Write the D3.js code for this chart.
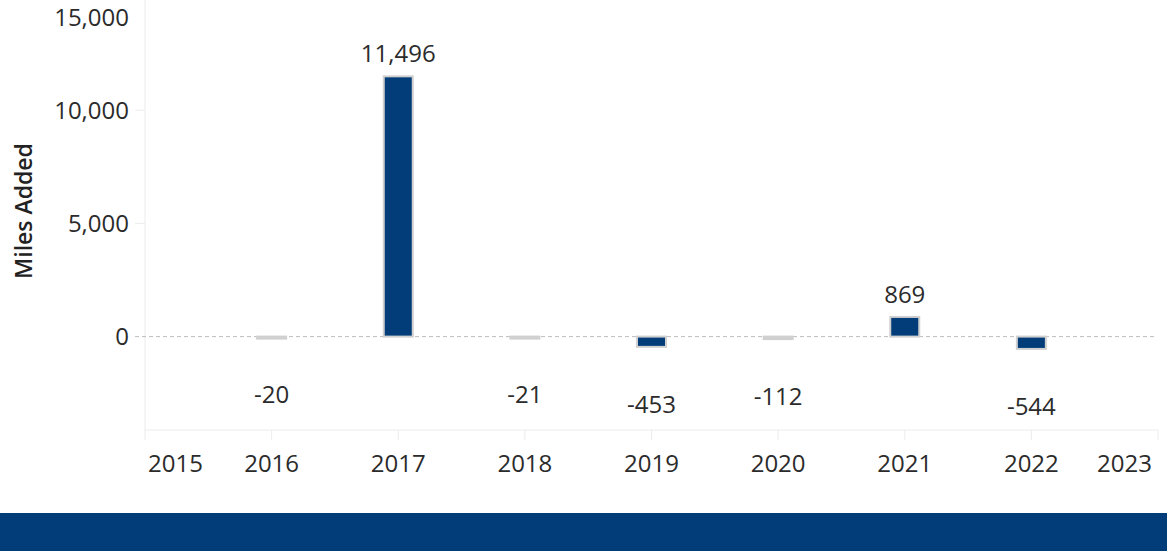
<!DOCTYPE html>
<html>
<head>
<meta charset="utf-8">
<script src="https://cdn.jsdelivr.net/npm/d3@7"></script>
<style>
  body { margin: 0; background: #fff; }
  svg { display: block; font-family: "Open Sans", "Noto Sans", sans-serif; }
</style>
</head>
<body>
<svg id="chart" width="1167" height="551"></svg>
<script>
// ------------------
// Data
// ------------------
const years = [2016, 2017, 2018, 2019, 2020, 2021, 2022];
const milesAdded = [-20, 11496, -21, -453, -112, 869, -544];
const xTicks = [2015, 2016, 2017, 2018, 2019, 2020, 2021, 2022, 2023];
const yTicks = [0, 5000, 10000, 15000];

const navy = "#023d7a";
const edge = "#d0d0d0";
const textColor = "#2b2b2b";
const fmt = v => d3.format(",")(Math.abs(v)).replace(/^/, v < 0 ? "-" : "");

const svg = d3.select("#chart");

const x = d3.scaleLinear().domain([2015, 2023]).range([145, 1158]);
const y = d3.scaleLinear().domain([-4125, 15000]).range([430, -3]);

// y axis line + ticks
svg.append("line")
  .attr("x1", 145).attr("x2", 145)
  .attr("y1", 0).attr("y2", 430)
  .attr("stroke", "#ececec").attr("stroke-width", 1);

yTicks.filter(t => t > 0).forEach(t => {
  svg.append("line")
    .attr("x1", 135).attr("x2", 145)
    .attr("y1", y(t)).attr("y2", y(t))
    .attr("stroke", "#ececec");
});

// top label is pushed down so it stays inside the picture
svg.selectAll("text.ylab")
  .data(yTicks)
  .enter().append("text")
  .attr("class", "ylab")
  .attr("x", 129)
  .attr("y", d => Math.max(y(d), 18))
  .attr("dy", "0.35em")
  .attr("text-anchor", "end")
  .attr("font-size", 24)
  .attr("fill", textColor)
  .text(d => fmt(d));

// y title
svg.append("text")
  .attr("transform", "translate(32,211) rotate(-90)")
  .attr("text-anchor", "middle")
  .attr("font-size", 23)
  .attr("font-weight", 600)
  .attr("fill", "#222")
  .text("Miles Added");

// x axis
svg.append("line")
  .attr("x1", 145).attr("x2", 1158)
  .attr("y1", 430).attr("y2", 430)
  .attr("stroke", "#ececec");

svg.selectAll("line.xtick")
  .data(xTicks)
  .enter().append("line")
  .attr("class", "xtick")
  .attr("x1", d => x(d)).attr("x2", d => x(d))
  .attr("y1", 430).attr("y2", 440)
  .attr("stroke", "#ececec");

svg.selectAll("text.xlab")
  .data(xTicks)
  .enter().append("text")
  .attr("class", "xlab")
  .attr("x", (d, i) => i === 0 ? x(d) + 3 : i === xTicks.length - 1 ? x(d) - 6 : x(d))
  .attr("y", 472)
  .attr("text-anchor", (d, i) => i === 0 ? "start" : i === xTicks.length - 1 ? "end" : "middle")
  .attr("font-size", 24)
  .attr("fill", textColor)
  .text(d => d);

// zero line
svg.append("line")
  .attr("x1", 135).attr("x2", 1156)
  .attr("y1", y(0)).attr("y2", y(0))
  .attr("stroke", "#bdbdbd")
  .attr("stroke-dasharray", "4,3");

// bars
const barW = 29;
const data = years.map((yr, i) => ({ year: yr, value: milesAdded[i] }));
const barH = d => Math.max(Math.abs(y(d.value) - y(0)), 2);

svg.selectAll("rect.bar")
  .data(data)
  .enter().append("rect")
  .attr("class", "bar")
  .attr("x", d => x(d.year) - barW / 2)
  .attr("y", d => y(Math.max(0, d.value)))
  .attr("width", barW)
  .attr("height", barH)
  .attr("fill", d => barH(d) < 4 ? edge : navy)
  .attr("stroke", edge)
  .attr("stroke-width", 2);

// value labels
svg.selectAll("text.val")
  .data(data)
  .enter().append("text")
  .attr("class", "val")
  .attr("x", d => x(d.year))
  .attr("y", d => d.value >= 0 ? y(d.value) - 14 : y(d.value) + 66)
  .attr("text-anchor", "middle")
  .attr("font-size", 24)
  .attr("fill", textColor)
  .text(d => fmt(d.value));

// bottom band
svg.append("rect")
  .attr("x", 0).attr("y", 513)
  .attr("width", 1167).attr("height", 38)
  .attr("fill", navy);
</script>
</body>
</html>
